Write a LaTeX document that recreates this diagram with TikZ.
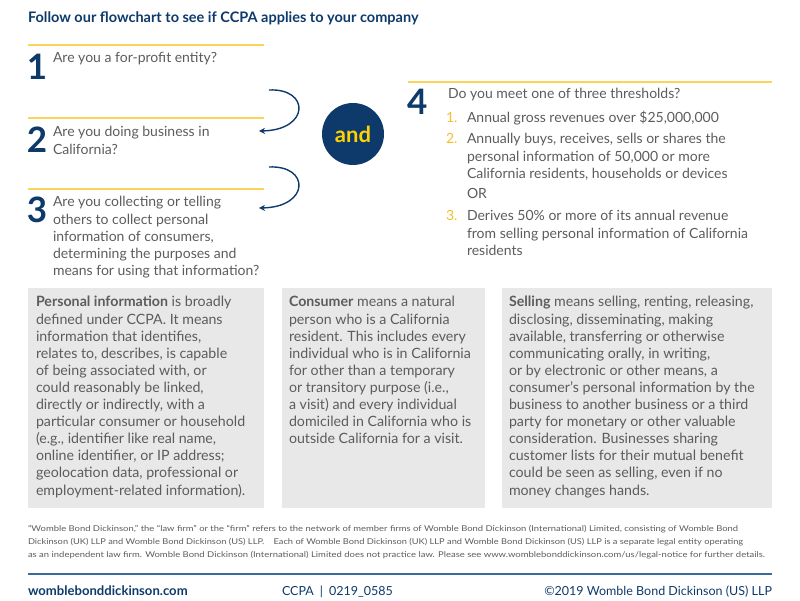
\documentclass[tikz,border=0pt]{standalone}
\usepackage{fontspec}
\usepackage{graphicx}
\setmainfont{Lato}
\usetikzlibrary{arrows.meta}
\definecolor{navy}{HTML}{0D3A6B}
\definecolor{lineyellow}{HTML}{FDD35A}
\definecolor{andyellow}{HTML}{FFD200}
\definecolor{numyellow}{HTML}{F6BB2E}
\definecolor{boxgray}{HTML}{E8E8E9}
\definecolor{txtgray}{HTML}{5B5C5E}
\definecolor{footblue}{HTML}{3C6A9A}
\newcommand{\mlines}[1]{\begin{tabular}[t]{@{}l@{}}#1\end{tabular}}
\newcommand{\fitw}[2]{\resizebox{#1}{\height}{#2}}
\tikzset{
  every node/.style={inner sep=0pt, outer sep=0pt, anchor=base west},
  titletext/.style={font=\bfseries\fontsize{14.5}{16}\selectfont, text=navy},
  yline/.style={draw=lineyellow, line width=1.3pt},
  bignum/.style={font=\bfseries\fontsize{35}{35}\selectfont, text=navy},
  qtext/.style={font=\fontsize{14}{17.2}\selectfont, text=txtgray},
  listnum/.style={font=\fontsize{14}{17.2}\selectfont, text=numyellow},
  bodytext/.style={font=\fontsize{14.2}{17.1}\selectfont, text=txtgray},
  greybox/.style={fill=boxgray},
  flowarrow/.style={draw=navy, line width=1.4pt, -{Stealth[length=6pt,width=6pt]}},
  andcircle/.style={circle, fill=navy, minimum size=62pt, anchor=center, text=andyellow, font=\bfseries\fontsize{22}{22}\selectfont},
  foottext/.style={font=\fontsize{8}{10}\selectfont, text=txtgray},
  footer/.style={font=\fontsize{12.5}{12.5}\selectfont, text=navy}
}
\begin{document}
\begin{tikzpicture}[x=1pt,y=-1pt]
\useasboundingbox (0,0) rectangle (800,601);
% title
\node[titletext] (title) at (28,23) {Follow our flowchart to see if CCPA applies to your company};
% yellow rules
\draw[yline] (28,45) -- (264,45);
\draw[yline] (28,118) -- (264,118);
\draw[yline] (28,189) -- (264,189);
\draw[yline] (408,82) -- (772,82);
% questions 1-3
\node[bignum] (n1) at (27,80) {1};
\node[qtext] (q1) at (53,63) {Are you a for-profit entity?};
\node[bignum] (n2) at (27,153) {2};
\node[qtext] (q2) at (53,137) {\mlines{Are you doing business in\\California?}};
\node[bignum] (n3) at (27,223) {3};
\node[qtext] (q3) at (53,207) {\mlines{Are you collecting or telling\\others to collect personal\\information of consumers,\\determining the purposes and\\means for using that information?}};
% arrows
\coordinate (a1s) at (269,90);
\coordinate (a1e) at (259,131);
\coordinate (a2s) at (269,167);
\coordinate (a2e) at (259,208);
\draw[flowarrow] (a1s) .. controls (310,88) and (310,130) .. (a1e);
\draw[flowarrow] (a2s) .. controls (310,165) and (310,207) .. (a2e);
% and
\node[andcircle] (and) at (353,134) {and};
% question 4
\node[bignum] (n4) at (407,115) {4};
\node[qtext] (q4) at (448,99) {Do you meet one of three thresholds?};
\node[listnum] (l1n) at (446,123) {1.};
\node[qtext] (l1) at (467,123) {Annual gross revenues over \$25,000,000};
\node[listnum] (l2n) at (446,144) {2.};
\node[qtext] (l2) at (467,144) {\mlines{Annually buys, receives, sells or shares the\\personal information of 50,000 or more\\California residents, households or devices}};
\node[qtext] (or) at (467,199) {OR};
\node[listnum] (l3n) at (446,221) {3.};
\node[qtext] (l3) at (467,221) {\mlines{Derives 50\% or more of its annual revenue\\from selling personal information of California\\residents}};
% definition boxes
\fill[greybox] (28,288) rectangle (264,508);
\fill[greybox] (282,288) rectangle (485,508);
\fill[greybox] (502,288) rectangle (772,508);
\node[bodytext] (pi) at (36,307) {\mlines{\textbf{Personal information} is broadly\\defined under CCPA. It means\\information that identifies,\\relates to, describes, is capable\\of being associated with, or\\could reasonably be linked,\\directly or indirectly, with a\\particular consumer or household\\(e.g., identifier like real name,\\online identifier, or IP address;\\geolocation data, professional or\\employment-related information).}};
\node[bodytext] (cons) at (289,307) {\mlines{\textbf{Consumer} means a natural\\person who is a California\\resident. This includes every\\individual who is in California\\for other than a temporary\\or transitory purpose (i.e.,\\a visit) and every individual\\domiciled in California who is\\outside California for a visit.}};
\node[bodytext] (sell) at (509,307) {\mlines{\textbf{Selling} means selling, renting, releasing,\\disclosing, disseminating, making\\available, transferring or otherwise\\communicating orally, in writing,\\or by electronic or other means, a\\consumer’s personal information by the\\business to another business or a third\\party for monetary or other valuable\\consideration. Businesses sharing\\customer lists for their mutual benefit\\could be seen as selling, even if no\\money changes hands.}};
% footnote
\node[foottext] (fn1) at (28,531) {\fitw{710pt}{“Womble Bond Dickinson,” the “law firm” or the “firm” refers to the network of member firms of Womble Bond Dickinson (International) Limited, consisting of Womble Bond}};
\node[foottext] (fn2) at (28,544) {\fitw{715pt}{Dickinson (UK) LLP and Womble Bond Dickinson (US) LLP.\quad Each of Womble Bond Dickinson (UK) LLP and Womble Bond Dickinson (US) LLP is a separate legal entity operating}};
\node[foottext] (fn3) at (28,557) {\fitw{737pt}{as an independent law firm. Womble Bond Dickinson (International) Limited does not practice law. Please see www.womblebonddickinson.com/us/legal-notice for further details.}};
% footer
\draw[draw=footblue, line width=1.2pt] (28,574) -- (772,574);
\node[footer, font=\bfseries\fontsize{13.1}{13.1}\selectfont] (web) at (28,595) {womblebonddickinson.com};
\node[footer] (code) at (282,595) {CCPA\hspace{6pt}|\hspace{6pt}0219\_0585};
\node[footer, anchor=base east] (copy) at (772,595) {©2019 Womble Bond Dickinson (US) LLP};
\end{tikzpicture}
\end{document}
